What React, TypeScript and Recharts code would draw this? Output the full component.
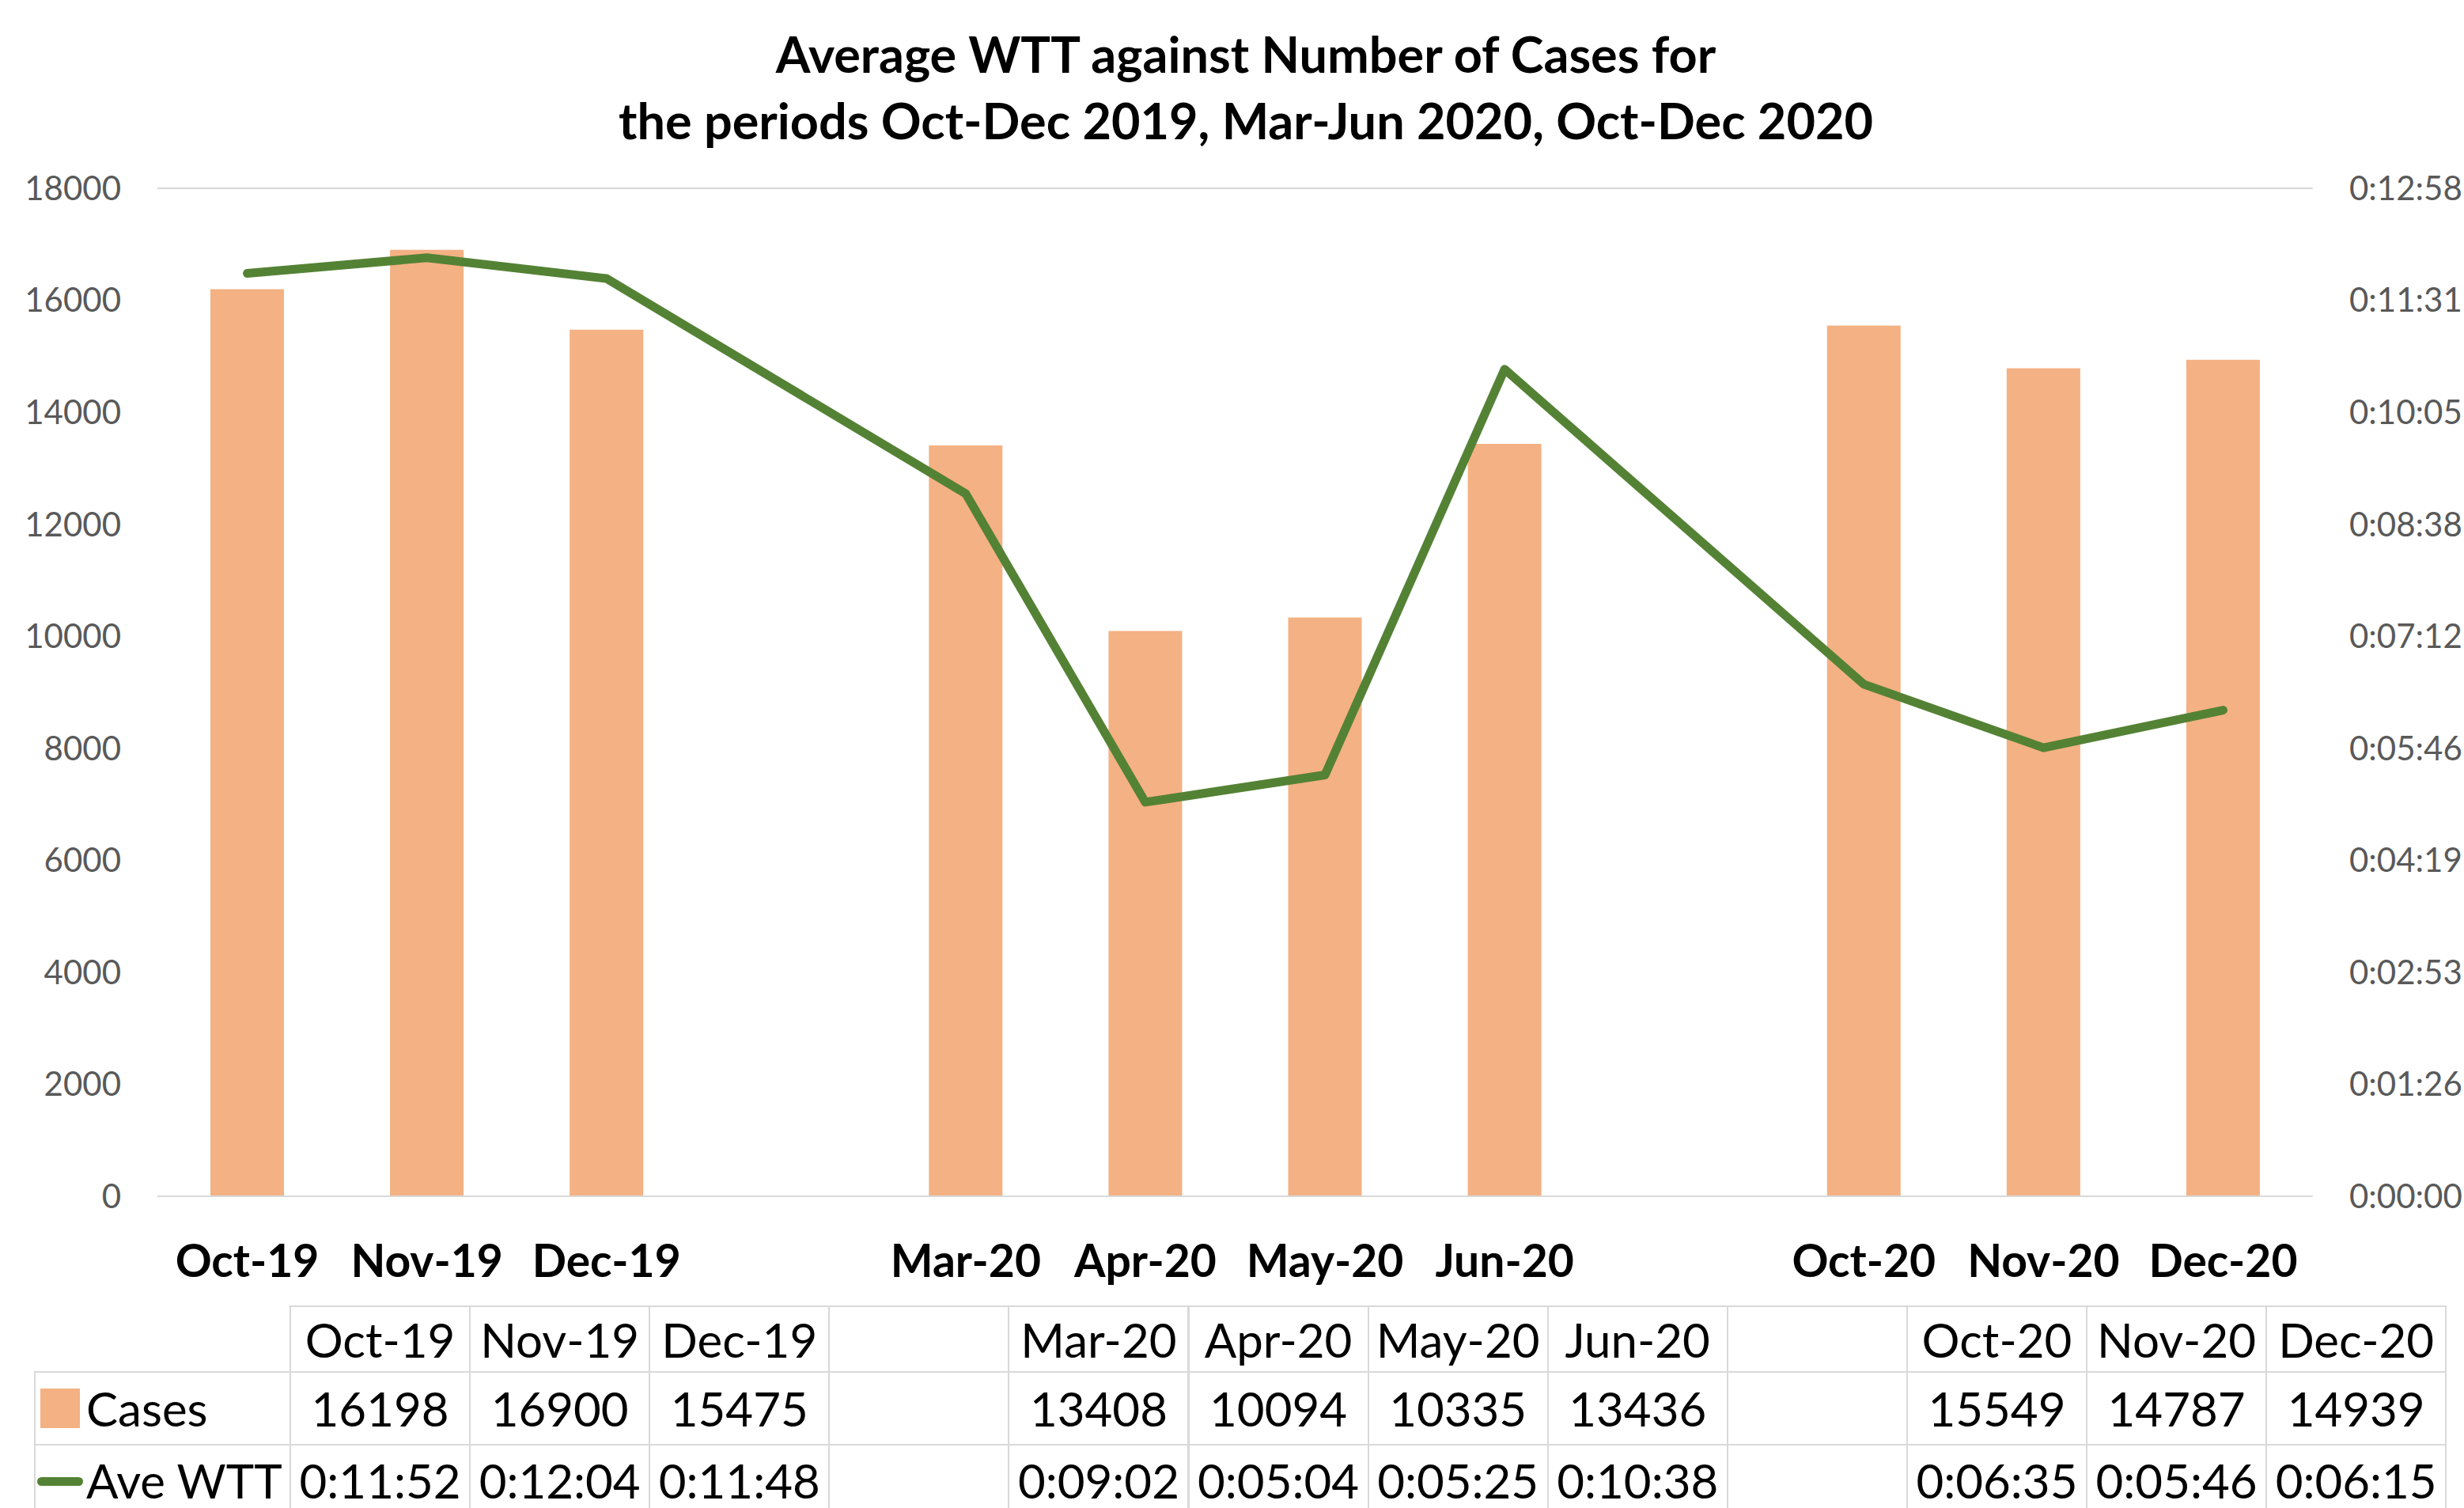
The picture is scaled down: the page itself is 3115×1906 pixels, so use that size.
import React from 'react';
import {
  ComposedChart,
  Bar,
  Line,
  XAxis,
  YAxis,
  CartesianGrid,
} from 'recharts';

const categories = ['Oct-19', 'Nov-19', 'Dec-19', '', 'Mar-20', 'Apr-20', 'May-20', 'Jun-20', '', 'Oct-20', 'Nov-20', 'Dec-20'];
const cases = [16198, 16900, 15475, null, 13408, 10094, 10335, 13436, null, 15549, 14787, 14939];
// average waiting time in seconds
const wttSeconds = [712, 724, 708, null, 542, 304, 325, 638, null, 395, 346, 375];
const leftTicks = [0, 2000, 4000, 6000, 8000, 10000, 12000, 14000, 16000, 18000];
const rightTicks = [0, 86.4, 172.8, 259.2, 345.6, 432, 518.4, 604.8, 691.2, 777.6];

const BAR_COLOR = '#F4B183';
const LINE_COLOR = '#548235';
const GRID = '#d9d9d9';

const fmtTime = (s: number) => {
  const t = Math.round(s);
  const h = Math.floor(t / 3600);
  const m = Math.floor((t % 3600) / 60);
  const sec = t % 60;
  return `${h}:${String(m).padStart(2, '0')}:${String(sec).padStart(2, '0')}`;
};

const chartData = categories.map((c, i) => ({
  month: c,
  cases: cases[i],
  wtt: wttSeconds[i],
}));

// data table geometry (last row runs off the bottom edge, like the original)
const TABLE_LEFT = 367;
const COL_W = 227.1;
const LEGEND_LEFT = 44;
const ROWS = [1651, 1734, 1826, 1906];

const Cell: React.FC<{
  left: number; top: number; width: number; height: number;
  children?: React.ReactNode; align?: string; last?: boolean;
}> = ({ left, top, width, height, children, align = 'center', last = false }) => (
  <div
    style={{
      position: 'absolute',
      left: left - 1,
      top: top - 1,
      width: width + 2,
      height: last ? height + 1 : height + 2,
      boxSizing: 'border-box',
      border: `2px solid ${GRID}`,
      borderBottom: last ? 'none' : `2px solid ${GRID}`,
      display: 'flex',
      alignItems: last ? 'flex-start' : 'center',
      paddingTop: last ? 14 : 0,
      justifyContent: align === 'center' ? 'center' : 'flex-start',
      fontSize: 60,
      lineHeight: 1,
      color: '#000',
      whiteSpace: 'nowrap',
    }}
  >
    {children}
  </div>
);

export default function App() {
  return (
    <div
      style={{
        position: 'absolute',
        left: 0,
        top: 0,
        width: 3115,
        height: 1906,
        background: '#fff',
        fontFamily: 'Lato, sans-serif',
        overflow: 'hidden',
      }}
    >
      <div
        style={{
          position: 'absolute',
          left: 0,
          width: 3150,
          top: 26,
          textAlign: 'center',
          fontWeight: 700,
          fontSize: 63,
          lineHeight: '84px',
          color: '#000',
        }}
      >
        Average WTT against Number of Cases for
        <br />
        the periods Oct-Dec 2019, Mar-Jun 2020, Oct-Dec 2020
      </div>

      <ComposedChart
        width={3115}
        height={1906}
        data={chartData}
        margin={{ top: 238, right: 0, bottom: 274, left: 0 }}
      >
        <CartesianGrid vertical={false} stroke={GRID} strokeWidth={2} />
        <XAxis
          dataKey="month"
          axisLine={{ stroke: GRID, strokeWidth: 2 }}
          tickLine={false}
          tickSize={0}
          tickMargin={62}
          height={120}
          interval={0}
          tick={{ fill: '#000', fontSize: 57, fontWeight: 700 }}
        />
        <YAxis
          yAxisId="left"
          domain={[0, 18000]}
          ticks={leftTicks}
          width={199}
          axisLine={false}
          tickLine={false}
          tickSize={0}
          tickMargin={46}
          tick={{ fill: '#595959', fontSize: 42 }}
        />
        <YAxis
          yAxisId="right"
          orientation="right"
          domain={[0, 777.6]}
          ticks={rightTicks}
          tickFormatter={fmtTime}
          width={191}
          axisLine={false}
          tickLine={false}
          tickSize={0}
          tickMargin={46}
          tick={{ fill: '#595959', fontSize: 42, textAnchor: 'start' }}
        />
        <Bar
          yAxisId="left"
          dataKey="cases"
          fill={BAR_COLOR}
          barSize={93}
          isAnimationActive={false}
        />
        <Line
          yAxisId="right"
          dataKey="wtt"
          type="linear"
          stroke={LINE_COLOR}
          strokeWidth={11}
          strokeLinecap="round"
          strokeLinejoin="round"
          dot={false}
          connectNulls
          isAnimationActive={false}
        />
      </ComposedChart>

      {/* data table */}
      {categories.map((c, i) => (
        <Cell key={`h${i}`} left={TABLE_LEFT + i * COL_W} top={ROWS[0]} width={COL_W} height={ROWS[1] - ROWS[0]}>
          {c}
        </Cell>
      ))}
      <Cell left={LEGEND_LEFT} top={ROWS[1]} width={TABLE_LEFT - LEGEND_LEFT} height={ROWS[2] - ROWS[1]} align="left">
        <span style={{ display: 'inline-block', width: 50, height: 50, background: BAR_COLOR, marginLeft: 6, marginRight: 8 }} />
        Cases
      </Cell>
      <Cell left={LEGEND_LEFT} top={ROWS[2]} width={TABLE_LEFT - LEGEND_LEFT} height={ROWS[3] - ROWS[2]} align="left" last>
        <span style={{ display: 'inline-block', width: 58, height: 11, background: LINE_COLOR, borderRadius: 6, marginLeft: 2, marginRight: 4, marginTop: 26 }} />
        Ave WTT
      </Cell>
      {cases.map((v, i) => (
        <Cell key={`c${i}`} left={TABLE_LEFT + i * COL_W} top={ROWS[1]} width={COL_W} height={ROWS[2] - ROWS[1]}>
          {v === null ? '' : v}
        </Cell>
      ))}
      {wttSeconds.map((v, i) => (
        <Cell key={`w${i}`} left={TABLE_LEFT + i * COL_W} top={ROWS[2]} width={COL_W} height={ROWS[3] - ROWS[2]} last>
          {v === null ? '' : fmtTime(v)}
        </Cell>
      ))}
    </div>
  );
}
